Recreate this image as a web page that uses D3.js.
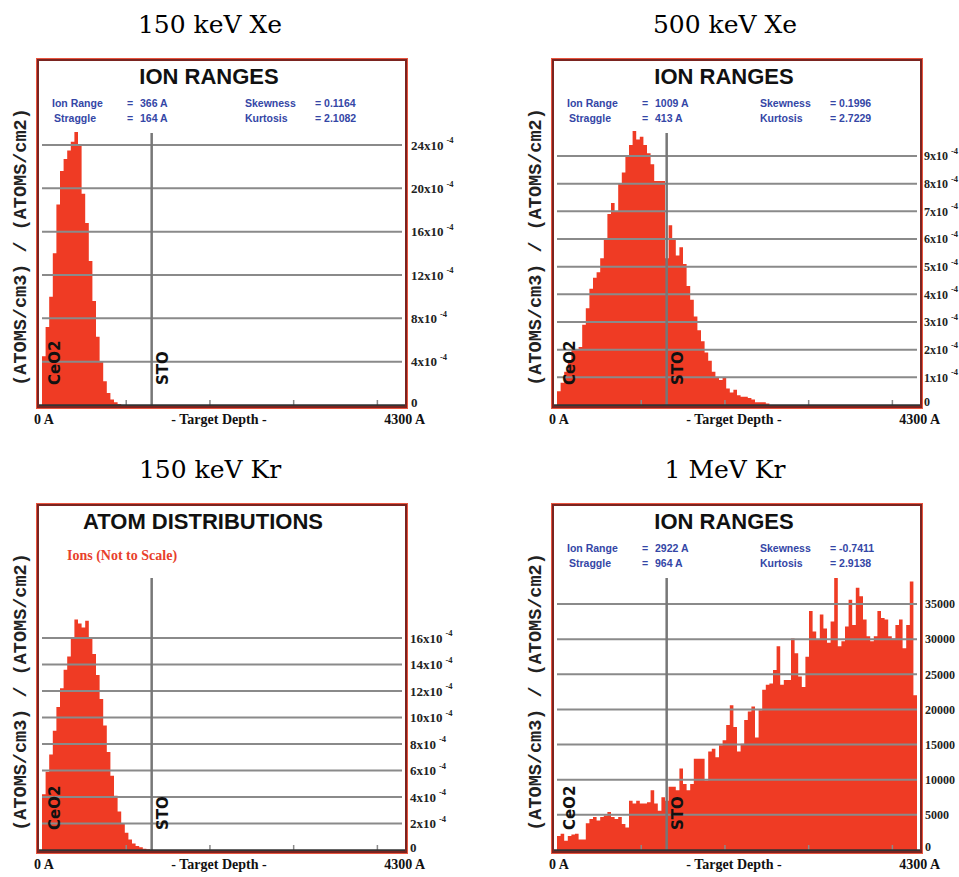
<!DOCTYPE html>
<html>
<head>
<meta charset="utf-8">
<script src="https://cdn.jsdelivr.net/npm/d3@7"></script>
<style>
  body { margin: 0; background: #fff; }
</style>
</head>
<body>
<div id="chart"></div>
<script>
// SRIM histograms, 43 A per bin, depth axis 0 - 4300 A
const binWidth = 43;
const depthMax = 4300;
const layerDepth = 1310;   // CeO2 / STO interface
const depthTicks = [1000, 2000, 3000, 4000];

const xe150 = [4.5, 7.2, 10, 14, 18.5, 21.6, 22.7, 23.5, 24.3, 25.2, 23.9, 19.5, 16.8, 13.3, 9.6,
  6.3, 4.0, 2.2, 1.1, 0.5, 0.25, 0.1];
const xe500 = [0.5, 0.8, 1.2, 1.6, 2.0, 2.0, 2.1, 2.9, 3.5, 4.2, 4.6, 4.8, 5.3, 6.0, 6.9,
  7.3, 7.0, 8.0, 8.4, 9.0, 9.4, 9.9, 9.6, 9.7, 9.4, 9.1, 8.7, 8.1, 8.1, 8.1,
  5.3, 6.5, 6.0, 5.4, 5.7, 5.1, 4.3, 3.8, 3.2, 2.7, 2.3, 1.9, 1.6, 1.2, 1.0,
  0.9, 1.0, 0.6, 0.45, 0.55, 0.35, 0.3, 0.3, 0.25, 0.2, 0.1, 0.1, 0.1, 0.05];
const kr150 = [4.2, 5.9, 7.2, 9.0, 10.8, 12.2, 13.6, 14.6, 16.0, 17.4, 17.1, 16.8, 17.3, 16.0, 14.8,
  13.2, 11.4, 9.4, 7.4, 5.6, 4.1, 2.9, 2.0, 1.3, 0.8, 0.5, 0.3, 0.2, 0.1, 0.05];
const kr1000 = [2000, 2300, 1300, 2000, 2200, 2300, 1500, 1500, 3800, 4400,
  4700, 4200, 4700, 4900, 5400, 4700, 4400, 4700, 3700, 3200,
  7000, 6600, 7000, 6600, 6600, 6800, 8500, 6600, 5600, 7500,
  7000, 9000, 9000, 8500, 11600, 9400, 8500, 9400, 13000, 13000,
  13000, 9900, 14000, 14400, 13200, 14900, 15600, 17800, 20600, 17500,
  14000, 15100, 18500, 19700, 20400, 16000, 19900, 22800, 23500, 23700,
  25600, 29000, 23500, 24200, 24200, 30100, 28000, 24700, 23200, 27500,
  34000, 31100, 29900, 33500, 31500, 29500, 32500, 38700, 29000, 29700,
  31800, 35600, 32000, 37300, 36100, 32800, 30400, 29700, 30400, 34000,
  33000, 32800, 30400, 30100, 32000, 32800, 28700, 32000, 38200, 22000];

const xe150Ticks = [0, 4, 8, 12, 16, 20, 24];
const xe500Ticks = [0, 1, 2, 3, 4, 5, 6, 7, 8, 9];
const kr150Ticks = [0, 2, 4, 6, 8, 10, 12, 14, 16];
const kr1000Ticks = [0, 5000, 10000, 15000, 20000, 25000, 30000, 35000];

const statsXe150 = ["366 A", "164 A", "0.1164", "2.1082"];
const statsXe500 = ["1009 A", "413 A", "0.1996", "2.7229"];
const statsKr1000 = ["2922 A", "964 A", "-0.7411", "2.9138"];

const RED = "#ef3b24";
const GRID = "#8a8a8a";

const panels = [
  { caption: "150 keV Xe", heading: "ION RANGES", values: xe150, ticks: xe150Ticks, sup: true,
    stats: statsXe150, left: 38, top: 60, yTopPx: 145, axisX: 373, tickSize: 13 },
  { caption: "500 keV Xe", heading: "ION RANGES", values: xe500, ticks: xe500Ticks, sup: true,
    stats: statsXe500, left: 553, top: 60, yTopPx: 156, axisX: 371, tickSize: 12 },
  { caption: "150 keV Kr", heading: "ATOM DISTRIBUTIONS", values: kr150, ticks: kr150Ticks, sup: true,
    stats: null, left: 38, top: 505, yTopPx: 638, axisX: 372, tickSize: 13 },
  { caption: "1 MeV Kr", heading: "ION RANGES", values: kr1000, ticks: kr1000Ticks, sup: false,
    stats: statsKr1000, left: 553, top: 505, yTopPx: 604, axisX: 372, tickSize: 12 }
];

const svg = d3.select("#chart")
  .append("svg")
  .attr("width", 959)
  .attr("height", 877);

panels.forEach(drawPanel);

function drawPanel(p) {
  const fw = 368, fh = 347;
  const base = p.top + 345;
  const x = d3.scaleLinear().domain([0, depthMax]).range([p.left + 4, p.left + 364]);
  const y = d3.scaleLinear().domain([0, d3.max(p.ticks)]).range([base, p.yTopPx]);
  const g = svg.append("g");

  // caption above the frame
  g.append("text")
    .attr("x", p.left + 172).attr("y", p.top - 27)
    .attr("text-anchor", "middle")
    .attr("font-family", "DejaVu Serif").attr("font-size", 25)
    .text(p.caption);

  // histogram
  const pts = p.values.map((v, i) => [i * binWidth, v]);
  pts.push([p.values.length * binWidth, p.values[p.values.length - 1]]);
  const area = d3.area()
    .curve(d3.curveStepAfter)
    .x(d => x(d[0]))
    .y0(y(0))
    .y1(d => y(d[1]));
  g.append("path").datum(pts).attr("fill", RED).attr("d", area);

  // gridlines on top of the bars
  g.selectAll(null)
    .data(p.ticks.filter(t => t > 0))
    .join("line")
    .attr("x1", x(0)).attr("x2", x(depthMax))
    .attr("y1", d => y(d)).attr("y2", d => y(d))
    .attr("stroke", GRID).attr("stroke-width", 2);

  // layer boundary
  g.append("line")
    .attr("x1", x(layerDepth)).attr("x2", x(layerDepth))
    .attr("y1", p.top + 73).attr("y2", base)
    .attr("stroke", "#777").attr("stroke-width", 2.5);

  // small depth ticks
  g.append("g")
    .attr("transform", `translate(0,${base})`)
    .call(d3.axisBottom(x).tickValues(depthTicks).tickSize(-5).tickFormat(""))
    .call(a => a.select(".domain").remove())
    .call(a => a.selectAll("line").attr("stroke", GRID).attr("stroke-width", 1.5));

  // baseline
  g.append("line")
    .attr("x1", p.left).attr("x2", p.left + fw)
    .attr("y1", base + 0.5).attr("y2", base + 0.5)
    .attr("stroke", "#333").attr("stroke-width", 2.5);

  // frame
  g.append("rect")
    .attr("x", p.left - 1.5).attr("y", p.top - 1.5)
    .attr("width", fw + 3).attr("height", fh + 3)
    .attr("fill", "none").attr("stroke", "#e8553f").attr("stroke-width", 1);
  g.append("rect")
    .attr("x", p.left).attr("y", p.top)
    .attr("width", fw).attr("height", fh)
    .attr("fill", "none").attr("stroke", "#7a2420").attr("stroke-width", 2);

  // right-hand value axis
  const ax = g.append("g")
    .attr("transform", `translate(${p.left + p.axisX},0)`)
    .call(d3.axisRight(y).tickValues(p.ticks).tickSize(0).tickPadding(0)
      .tickFormat(d => d === 0 ? "0" : (p.sup ? d + "x10" : d)))
    .call(a => a.select(".domain").remove())
    .attr("font-family", "Liberation Serif")
    .attr("font-weight", "bold")
    .attr("font-size", p.tickSize);
  ax.selectAll("text").attr("fill", "#222");
  ax.selectAll(".tick").filter(d => d === 0).select("text").attr("y", -3);
  if (p.sup) {
    ax.selectAll("text")
      .filter(d => d !== 0)
      .append("tspan")
      .attr("dx", 3).attr("dy", "-0.75em")
      .attr("font-size", 8.5)
      .text("-4");
  }

  // heading
  g.append("text")
    .attr("x", p.left + (p.stats ? 171 : 165)).attr("y", p.top + 24)
    .attr("text-anchor", "middle")
    .attr("font-family", "Liberation Sans").attr("font-weight", "bold")
    .attr("font-size", 22).attr("fill", "#111")
    .text(p.heading);

  if (p.stats) {
    const rows = [
      ["Ion Range", p.stats[0], "Skewness", p.stats[2], 14, 47],
      ["Straggle", p.stats[1], "Kurtosis", p.stats[3], 16, 62]
    ];
    rows.forEach(r => {
      const st = g.append("g")
        .attr("font-family", "Liberation Sans").attr("font-weight", "bold")
        .attr("font-size", 10.5).attr("fill", "#3446a6");
      st.append("text").attr("x", p.left + r[4]).attr("y", p.top + r[5]).text(r[0]);
      st.append("text").attr("x", p.left + 89).attr("y", p.top + r[5]).text("=");
      st.append("text").attr("x", p.left + 102).attr("y", p.top + r[5]).text(r[1]);
      st.append("text").attr("x", p.left + 207).attr("y", p.top + r[5]).text(r[2]);
      st.append("text").attr("x", p.left + 277).attr("y", p.top + r[5]).text("= " + r[3]);
    });
  } else {
    g.append("text")
      .attr("x", p.left + 29).attr("y", p.top + 55)
      .attr("font-family", "Liberation Serif").attr("font-weight", "bold")
      .attr("font-size", 14).attr("fill", "#e8402c")
      .text("Ions (Not to Scale)");
  }

  // layer labels
  g.append("text")
    .attr("transform", `translate(${p.left + 22},${base - 20}) rotate(-90)`)
    .attr("font-family", "DejaVu Sans").attr("font-weight", "bold")
    .attr("font-size", 15).attr("fill", "#111")
    .text("CeO2");
  g.append("text")
    .attr("transform", `translate(${x(layerDepth) + 16},${base - 20}) rotate(-90)`)
    .attr("font-family", "DejaVu Sans").attr("font-weight", "bold")
    .attr("font-size", 15).attr("fill", "#111")
    .text("STO");

  // y label
  g.append("text")
    .attr("transform", `translate(${p.left - 12},${p.top + 187}) rotate(-90)`)
    .attr("text-anchor", "middle")
    .attr("font-family", "Liberation Mono").attr("font-weight", "bold")
    .attr("font-size", 18.5).attr("fill", "#222")
    .text("(ATOMS/cm3) / (ATOMS/cm2)");

  // depth labels
  const dl = g.append("g")
    .attr("font-family", "Liberation Serif").attr("font-weight", "bold")
    .attr("font-size", 14).attr("fill", "#111");
  dl.append("text").attr("x", p.left - 4).attr("y", base + 19).text("0 A");
  dl.append("text").attr("x", p.left + 181).attr("y", base + 19)
    .attr("text-anchor", "middle").text("- Target Depth -");
  dl.append("text").attr("x", p.left + 387).attr("y", base + 19)
    .attr("text-anchor", "end").text("4300 A");
}
</script>
</body>
</html>
